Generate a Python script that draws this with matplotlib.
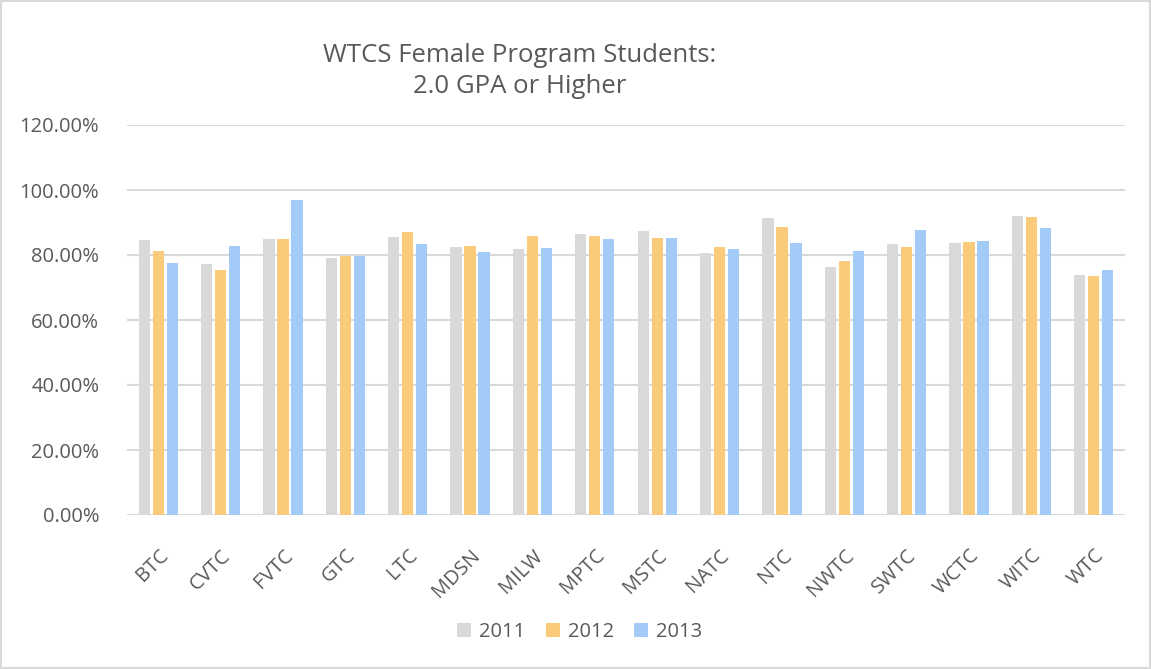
import numpy as np
from matplotlib import pyplot as plt
from matplotlib.patches import Rectangle

plt.rcParams.update({'font.family': ['Open Sans', 'DejaVu Sans']})

colleges = ['BTC', 'CVTC', 'FVTC', 'GTC', 'LTC', 'MDSN', 'MILW', 'MPTC',
            'MSTC', 'NATC', 'NTC', 'NWTC', 'SWTC', 'WCTC', 'WITC', 'WTC']
years = ['2011', '2012', '2013']
gpa_2011 = [84.5, 77.1, 84.9, 79.1, 85.5, 82.4, 81.8, 86.5,
            87.4, 80.6, 91.3, 76.3, 83.4, 83.7, 92.0, 73.9]
gpa_2012 = [81.2, 75.4, 84.8, 79.6, 87.1, 82.7, 85.9, 85.8,
            85.1, 82.5, 88.5, 78.2, 82.4, 84.0, 91.7, 73.5]
gpa_2013 = [77.6, 82.7, 96.8, 79.7, 83.4, 80.8, 82.2, 84.8,
            85.3, 81.8, 83.7, 81.2, 87.7, 84.3, 88.4, 75.3]
colors = ['#d9d9d9', '#fbcb7c', '#a3cbf7']

txt = '#595959'
fig = plt.figure(figsize=(11.51, 6.69), dpi=100)
ax = fig.add_axes([127 / 1151, 1 - 515 / 669, 998 / 1151, 390 / 669])

x = np.arange(len(colleges))
w = 0.18
step = 0.225
for i, (vals, c, yr) in enumerate(zip([gpa_2011, gpa_2012, gpa_2013], colors, years)):
    ax.bar(x + (i - 1) * step, vals, width=w, color=c, label=yr, zorder=3)

ax.set_xlim(-0.5, len(colleges) - 0.5)
ax.set_ylim(0, 120)
ax.set_yticks(np.arange(0, 121, 20))
ax.set_yticklabels(['{:.2f}%'.format(v) for v in np.arange(0, 121, 20)])
ax.set_xticks(x)
ax.set_xticklabels(colleges, rotation=45, ha='right', rotation_mode='anchor')
ax.grid(axis='y', color='#d9d9d9', lw=1.5, zorder=0)
ax.tick_params(length=0, labelsize=14.5, colors=txt)
ax.tick_params(axis='y', pad=20)
ax.tick_params(axis='x', pad=22)
for s in ax.spines.values():
    s.set_visible(False)

fig.text(520 / 1151, 1 - 71 / 669, 'WTCS Female Program Students:\n2.0 GPA or Higher',
         ha='center', va='center', fontsize=18.5, color=txt, linespacing=1.3)

ax.legend(loc='center', bbox_to_anchor=(580 / 1151, 1 - 632 / 669),
          bbox_transform=fig.transFigure, ncol=3, frameon=False, fontsize=14.5,
          handlelength=0.7, handleheight=0.7, columnspacing=1.0, handletextpad=0.4,
          labelcolor=txt)

fig.patches.append(Rectangle((0.001, 0.001), 0.998, 0.998, transform=fig.transFigure,
                             fill=False, edgecolor='#d9d9d9', lw=1.5))

plt.savefig('out.png')
